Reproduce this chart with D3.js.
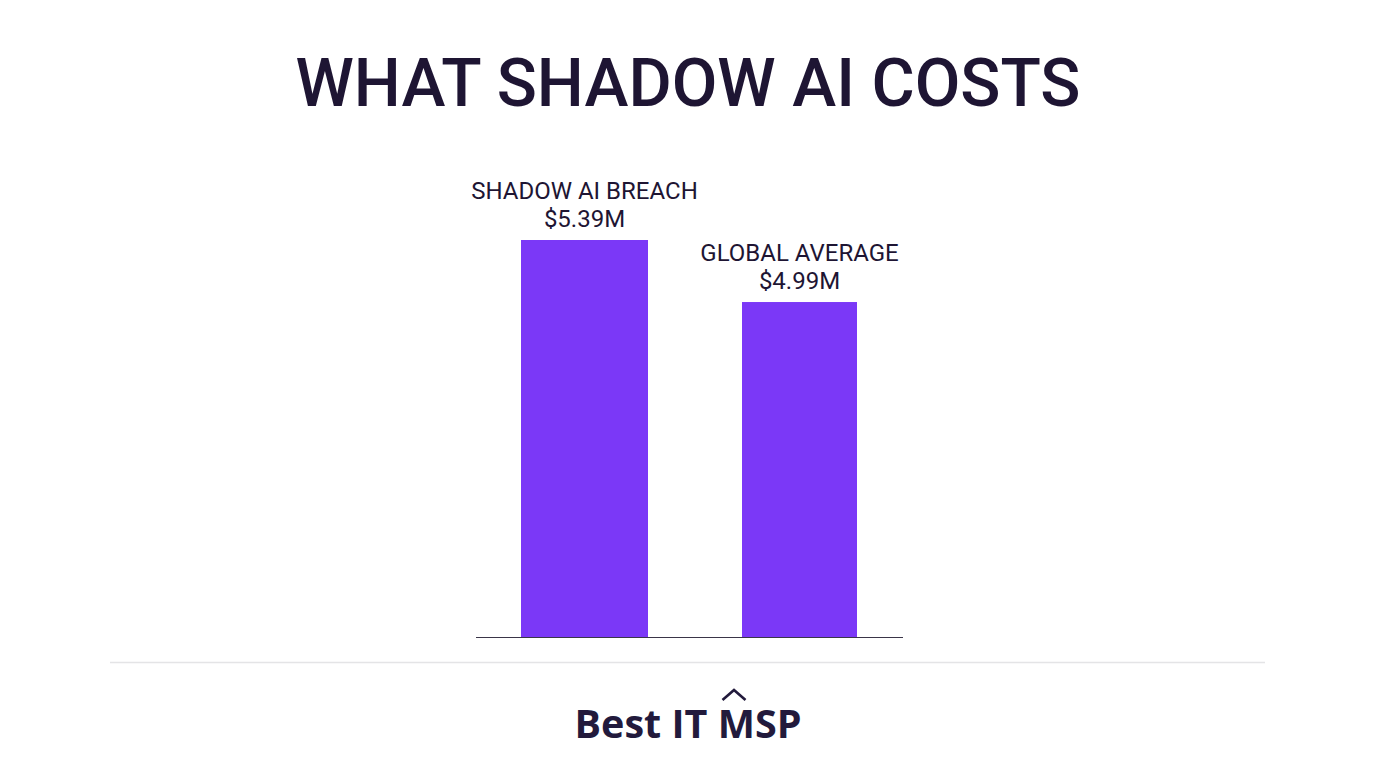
<!DOCTYPE html>
<html>
<head>
<meta charset="utf-8">
<script src="https://cdn.jsdelivr.net/npm/d3@7"></script>
<style>
  body { margin: 0; background: #fff; }
</style>
</head>
<body>
<div id="chart"></div>
<script>
// chart data
const categories = ["SHADOW AI BREACH", "GLOBAL AVERAGE"];
const costs = [5.39, 4.99];
const costLabels = ["$5.39M", "$4.99M"];

const width = 1376, height = 764;
const ink = "#1e1533";
const barColor = "#7b38f7";
const barWidths = [127, 115]; // bars are not the same width in the original

const svg = d3.select("#chart").append("svg")
    .attr("width", width)
    .attr("height", height);

// title
svg.append("text")
    .attr("x", 688)
    .attr("y", 106)
    .attr("text-anchor", "middle")
    .attr("textLength", 785)
    .attr("lengthAdjust", "spacingAndGlyphs")
    .style("font-family", "Roboto, Liberation Sans, sans-serif")
    .style("font-weight", "500")
    .style("font-size", "67px")
    .style("fill", ink)
    .text("WHAT SHADOW AI COSTS");

// scales (value axis does not start at zero in the original)
const x = d3.scalePoint().domain(categories).range([584.5, 799.5]);
const y = d3.scaleLinear().domain([2.83, 5.39]).range([637, 240]);

// bars
svg.selectAll(".bar")
    .data(categories)
    .enter().append("rect")
    .attr("class", "bar")
    .attr("x", (d, i) => x(d) - barWidths[i] / 2)
    .attr("y", (d, i) => y(costs[i]))
    .attr("width", (d, i) => barWidths[i])
    .attr("height", (d, i) => y.range()[0] - y(costs[i]))
    .style("fill", barColor);

// baseline
svg.append("line")
    .attr("x1", 476).attr("x2", 903)
    .attr("y1", y.range()[0] + 0.5).attr("y2", y.range()[0] + 0.5)
    .style("stroke", "#3a3548")
    .style("stroke-width", 1.2);

// labels above the bars
const labels = svg.selectAll(".label")
    .data(categories)
    .enter().append("g")
    .attr("class", "label")
    .style("font-family", "Roboto, Liberation Sans, sans-serif")
    .style("font-size", "24px")
    .style("fill", ink)
    .attr("text-anchor", "middle");

labels.append("text")
    .attr("x", d => x(d))
    .attr("y", (d, i) => y(costs[i]) - 41)
    .text(d => d);

labels.append("text")
    .attr("x", d => x(d))
    .attr("y", (d, i) => y(costs[i]) - 13)
    .text((d, i) => costLabels[i]);

// separator
svg.append("line")
    .attr("x1", 110).attr("x2", 1265)
    .attr("y1", 662.5).attr("y2", 662.5)
    .style("stroke", "#e4e4e6")
    .style("stroke-width", 1.5);

// logo
svg.append("text")
    .attr("x", 688)
    .attr("y", 738)
    .attr("text-anchor", "middle")
    .style("font-family", "Open Sans, Noto Sans, sans-serif")
    .style("font-weight", "bold")
    .style("font-size", "39.5px")
    .style("fill", "#221a3c")
    .text("Best IT MSP");

svg.append("path")
    .attr("d", "M722.5,700 L734,690 L745.5,700")
    .style("fill", "none")
    .style("stroke", "#221a3c")
    .style("stroke-width", 2.6);
</script>
</body>
</html>
